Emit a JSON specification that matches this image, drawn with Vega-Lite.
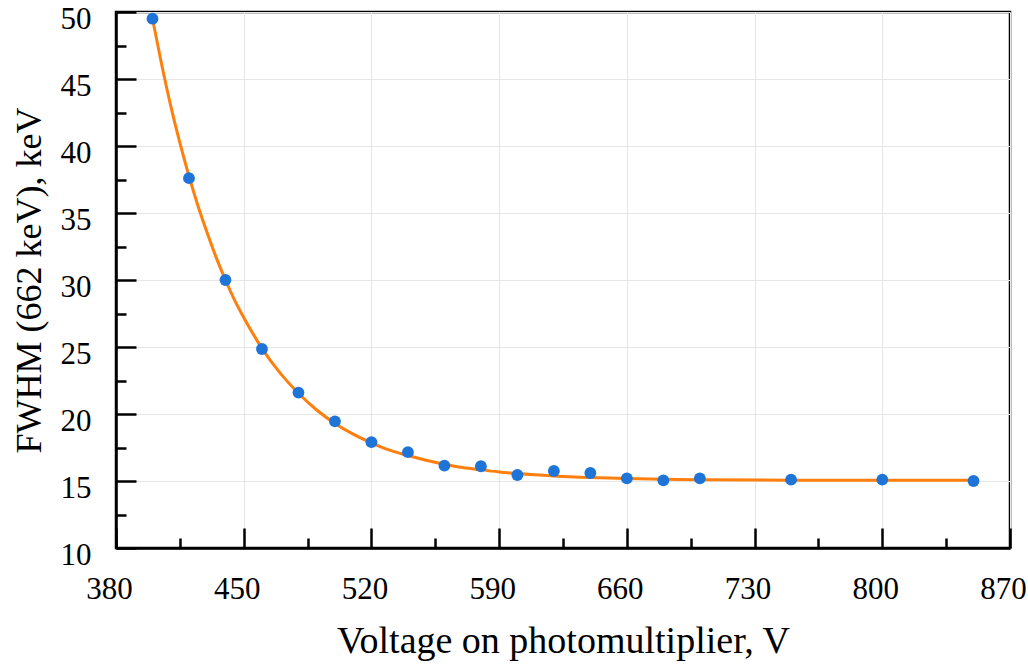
{
  "$schema": "https://vega.github.io/schema/vega-lite/v6.json",
  "width": 894,
  "height": 536,
  "autosize": {"type": "none"},
  "padding": {"left": 116, "top": 12, "right": 18, "bottom": 118},
  "background": "white",
  "config": {
    "view": {"stroke": "black", "strokeWidth": 2.5},
    "axis": {
      "labelFont": "Liberation Serif",
      "titleFont": "Liberation Serif",
      "labelFontSize": 31,
      "labelColor": "black",
      "titleColor": "black",
      "titleFontWeight": "normal",
      "labelFlush": false,
      "labelOverlap": false,
      "domainColor": "black",
      "domainWidth": 2.5,
      "tickColor": "black",
      "tickWidth": 2.5,
      "gridColor": "#e6e6e6",
      "gridWidth": 1
    }
  },
  "datasets": {
    "points": [
      {"v": 400, "fwhm": 49.5},
      {"v": 420, "fwhm": 37.6},
      {"v": 440, "fwhm": 30.0},
      {"v": 460, "fwhm": 24.85},
      {"v": 480, "fwhm": 21.6},
      {"v": 500, "fwhm": 19.45},
      {"v": 520, "fwhm": 17.9},
      {"v": 540, "fwhm": 17.15},
      {"v": 560, "fwhm": 16.15},
      {"v": 580, "fwhm": 16.1},
      {"v": 600, "fwhm": 15.45},
      {"v": 620, "fwhm": 15.75},
      {"v": 640, "fwhm": 15.6},
      {"v": 660, "fwhm": 15.2},
      {"v": 680, "fwhm": 15.05},
      {"v": 700, "fwhm": 15.2},
      {"v": 750, "fwhm": 15.1},
      {"v": 800, "fwhm": 15.1},
      {"v": 850, "fwhm": 15.0}
    ],
    "fit": [
      {"v": 400, "fwhm": 49.5},
      {"v": 405, "fwhm": 46.1},
      {"v": 410, "fwhm": 43.0},
      {"v": 415, "fwhm": 40.25},
      {"v": 420, "fwhm": 37.75},
      {"v": 425, "fwhm": 35.5},
      {"v": 430, "fwhm": 33.5},
      {"v": 435, "fwhm": 31.65},
      {"v": 440, "fwhm": 30.0},
      {"v": 445, "fwhm": 28.5},
      {"v": 450, "fwhm": 27.2},
      {"v": 455, "fwhm": 26.0},
      {"v": 460, "fwhm": 24.9},
      {"v": 470, "fwhm": 23.05},
      {"v": 480, "fwhm": 21.55},
      {"v": 490, "fwhm": 20.3},
      {"v": 500, "fwhm": 19.3},
      {"v": 510, "fwhm": 18.5},
      {"v": 520, "fwhm": 17.85},
      {"v": 530, "fwhm": 17.3},
      {"v": 540, "fwhm": 16.9},
      {"v": 550, "fwhm": 16.55},
      {"v": 560, "fwhm": 16.25},
      {"v": 570, "fwhm": 16.0},
      {"v": 580, "fwhm": 15.83},
      {"v": 590, "fwhm": 15.68},
      {"v": 600, "fwhm": 15.56},
      {"v": 620, "fwhm": 15.38},
      {"v": 640, "fwhm": 15.26},
      {"v": 660, "fwhm": 15.18},
      {"v": 680, "fwhm": 15.13},
      {"v": 700, "fwhm": 15.1},
      {"v": 750, "fwhm": 15.06},
      {"v": 800, "fwhm": 15.05},
      {"v": 850, "fwhm": 15.05}
    ]
  },
  "resolve": {"axis": {"x": "independent", "y": "independent"}},
  "layer": [
    {
      "data": {"name": "fit"},
      "mark": {"type": "line", "color": "#ff7f0e", "strokeWidth": 3, "interpolate": "monotone"},
      "encoding": {
        "x": {
          "field": "v", "type": "quantitative",
          "scale": {"domain": [380, 870], "nice": false, "zero": false},
          "axis": {
            "orient": "bottom",
            "values": [415, 485, 555, 625, 695, 765, 835],
            "tickSize": -10,
            "labels": false, "grid": false, "domain": false, "title": null
          }
        },
        "y": {
          "field": "fwhm", "type": "quantitative",
          "scale": {"domain": [10, 50], "nice": false, "zero": false},
          "axis": {
            "orient": "left",
            "values": [12.5, 17.5, 22.5, 27.5, 32.5, 37.5, 42.5, 47.5],
            "tickSize": -10,
            "labels": false, "grid": false, "domain": false, "title": null
          }
        }
      }
    },
    {
      "data": {"name": "points"},
      "mark": {"type": "circle", "size": 140, "color": "#1f74d8", "opacity": 1},
      "encoding": {
        "x": {
          "field": "v", "type": "quantitative",
          "scale": {"domain": [380, 870], "nice": false, "zero": false},
          "axis": {
            "orient": "bottom",
            "values": [380, 450, 520, 590, 660, 730, 800, 870],
            "tickSize": -20,
            "labelPadding": 46,
            "labelOffset": -7,
            "grid": true,
            "title": "Voltage on photomultiplier, V",
            "titleFontSize": 38,
            "titlePadding": 18
          }
        },
        "y": {
          "field": "fwhm", "type": "quantitative",
          "scale": {"domain": [10, 50], "nice": false, "zero": false},
          "axis": {
            "orient": "left",
            "values": [10, 15, 20, 25, 30, 35, 40, 45, 50],
            "tickSize": -20,
            "labelPadding": 45,
            "labelOffset": 7,
            "grid": true,
            "title": "FWHM (662 keV), keV",
            "titleFontSize": 36,
            "titlePadding": 12
          }
        }
      }
    }
  ]
}
